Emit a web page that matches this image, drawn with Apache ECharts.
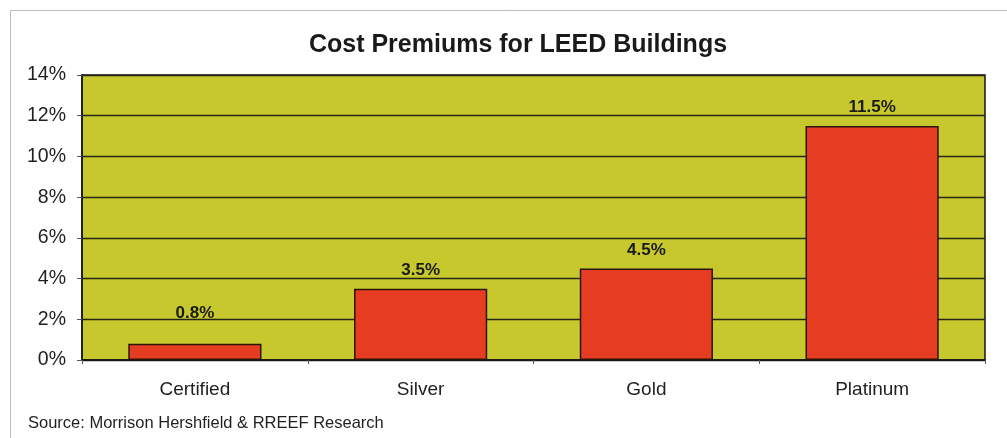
<!DOCTYPE html>
<html>
<head>
<meta charset="utf-8">
<title>Cost Premiums for LEED Buildings</title>
<script src="https://cdn.jsdelivr.net/npm/echarts@6/dist/echarts.min.js"></script>
<style>
  html, body { margin: 0; padding: 0; background: #ffffff; }
  #chart { width: 1007px; height: 438px; }
</style>
</head>
<body>
<div id="chart"></div>
<script>
// LEED certification levels and their construction cost premium (%)
const categories = ['Certified', 'Silver', 'Gold', 'Platinum'];
const premiums = [0.8, 3.5, 4.5, 11.5];
const yTicks = [0, 2, 4, 6, 8, 10, 12, 14];

const FONT = 'Arial, "Liberation Sans", Helvetica, sans-serif';

const chart = echarts.init(document.getElementById('chart'), null, { renderer: 'canvas' });

// Small value labels sit slightly higher to clear the gridline
const barData = premiums.map(function (v) {
  return {
    value: v,
    label: { distance: v < 1 ? 22 : 10 }
  };
});

chart.setOption({
  backgroundColor: '#ffffff',
  animation: false,
  title: {
    text: 'Cost Premiums for LEED Buildings',
    left: 513,
    textAlign: 'center',
    top: 28,
    textStyle: { fontFamily: FONT, fontSize: 25, fontWeight: 'bold', color: '#1a1a1a' }
  },
  graphic: [
    {
      type: 'rect',
      shape: { x: 10.5, y: 10.5, width: 1010, height: 440 },
      style: { fill: 'none', stroke: '#bdbdbd', lineWidth: 1 },
      silent: true
    },
    {
      type: 'text',
      left: 28,
      top: 415,
      style: {
        text: 'Source: Morrison Hershfield & RREEF Research',
        fontFamily: FONT,
        fontSize: 16.5,
        fill: '#1f1f1f'
      }
    }
  ],
  grid: {
    left: 82,
    right: 22,
    top: 75,
    bottom: 78,
    show: true,
    backgroundColor: '#c6c82e',
    borderColor: '#141414',
    borderWidth: 1.5
  },
  xAxis: {
    type: 'category',
    data: categories,
    boundaryGap: true,
    axisLine: { show: true, lineStyle: { color: '#141414', width: 1.5 } },
    axisTick: { show: true, length: 4, lineStyle: { color: '#555555' } },
    axisLabel: {
      margin: 20,
      fontFamily: FONT,
      fontSize: 19,
      color: '#1f1f1f'
    }
  },
  yAxis: {
    type: 'value',
    min: yTicks[0],
    max: yTicks[yTicks.length - 1],
    interval: 2,
    axisLine: { show: true, lineStyle: { color: '#141414', width: 1.5 } },
    axisTick: { show: true, length: 5, lineStyle: { color: '#555555' } },
    splitLine: { show: true, lineStyle: { color: '#262616', width: 1.4 } },
    axisLabel: {
      margin: 16,
      fontFamily: FONT,
      fontSize: 19.5,
      color: '#1f1f1f',
      formatter: function (v) { return v + '%'; }
    }
  },
  series: [
    {
      type: 'bar',
      data: barData,
      barWidth: '59%',
      itemStyle: {
        color: '#e63d22',
        borderColor: '#2a1608',
        borderWidth: 1.5
      },
      label: {
        show: true,
        position: 'top',
        fontFamily: FONT,
        fontSize: 17,
        fontWeight: 'bold',
        color: '#1a1a1a',
        formatter: function (p) { return p.value.toFixed(1) + '%'; }
      }
    }
  ]
});
</script>
</body>
</html>
